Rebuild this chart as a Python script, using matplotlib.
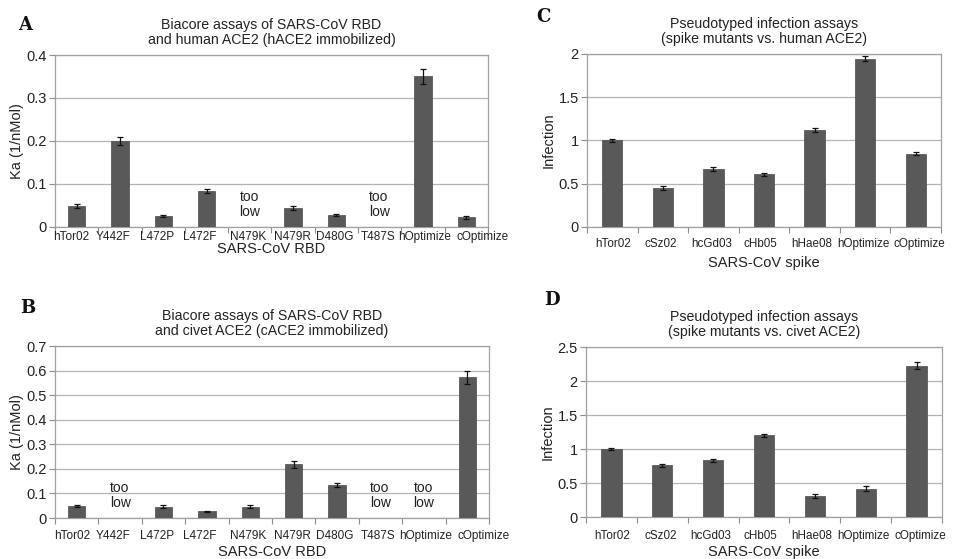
import matplotlib
matplotlib.use('Agg')
import matplotlib.pyplot as plt
import matplotlib.transforms as mtransforms
import numpy as np

plt.rcParams['font.family'] = ['Liberation Sans', 'DejaVu Sans']

# panel A / B categories (RBD mutants)
rbd_names = ['hTor02', 'Y442F', 'L472P', 'L472F', 'N479K', 'N479R',
             'D480G', 'T487S', 'hOptimize', 'cOptimize']
# None = "too low"
ka_human = [0.048, 0.200, 0.026, 0.084, None, 0.044, 0.027, None, 0.350, 0.022]
ka_human_err = [0.005, 0.010, 0.002, 0.005, 0, 0.004, 0.002, 0, 0.018, 0.003]
ka_civet = [0.049, None, 0.046, 0.027, 0.046, 0.218, 0.135, None, None, 0.572]
ka_civet_err = [0.003, 0, 0.006, 0.003, 0.007, 0.015, 0.008, 0, 0, 0.027]

# panel C / D categories (spikes)
spike_names = ['hTor02', 'cSz02', 'hcGd03', 'cHb05', 'hHae08',
               'hOptimize', 'cOptimize']
inf_human = [1.00, 0.453, 0.67, 0.607, 1.12, 1.946, 0.847]
inf_human_err = [0.02, 0.02, 0.02, 0.02, 0.025, 0.03, 0.02]
inf_civet = [1.00, 0.76, 0.833, 1.20, 0.31, 0.417, 2.225]
inf_civet_err = [0.01, 0.02, 0.025, 0.02, 0.03, 0.035, 0.05]

# the category labels in the original are not quite centred (pixels)
rbd_shift = [-5, -7, -6, -7, -2, -1, -2, -2, 2, 16]
spike_shift = [1, -2, -2, -4, -3, -2, 4]

BAR = '#595959'
GRID = '#b4b4b4'
TXT = '#222222'

fig = plt.figure(figsize=(9.58, 5.59), dpi=100)


def panel(ax, names, vals, errs, ymax, ystep, title, xlabel, ylabel,
          lab_drop, xfs, shifts, xlab_y):
    x = np.arange(len(names))
    v = np.array([0 if a is None else a for a in vals])
    e = np.array(errs)
    has = np.array([a is not None for a in vals])
    ax.bar(x[has], v[has], width=0.4, color=BAR, edgecolor='#4a4a4a',
           linewidth=0.5, zorder=3)
    ax.errorbar(x[has], v[has], yerr=e[has], fmt='none', ecolor='#111111',
                elinewidth=0.9, capsize=2.5, capthick=0.9, zorder=4)
    for i, a in enumerate(vals):
        if a is None:
            ax.text(i, ymax * 0.13, 'too\nlow', ha='center', va='center',
                    multialignment='left', fontsize=10, color=TXT,
                    linespacing=1.1)
    ax.set_xlim(-0.5, len(names) - 0.5)
    ax.set_ylim(0, ymax)
    yt = np.arange(0, ymax + ystep / 2, ystep)
    ax.set_yticks(yt)
    ax.set_yticklabels(['%g' % t for t in yt], fontsize=10.5, color=TXT)
    ax.set_xticks(x)
    ax.tick_params(axis='x', which='major', length=0, labelbottom=False)
    # category names as plain texts so they can be nudged like the original
    for i, (nm, dx) in enumerate(zip(names, shifts)):
        off = mtransforms.ScaledTranslation(dx / 100.0, -lab_drop / 100.0,
                                            fig.dpi_scale_trans)
        ax.text(i, 0, nm, transform=ax.get_xaxis_transform() + off,
                ha='center', va='top', fontsize=xfs, color=TXT, clip_on=False)
    ax.set_xticks(np.arange(-0.5, len(names)), minor=True)
    ax.tick_params(axis='x', which='minor', length=4, color='#8c8c8c',
                   width=0.8)
    ax.tick_params(axis='y', length=4, color='#8c8c8c', width=0.8, pad=2)
    ax.grid(axis='y', color=GRID, linewidth=0.9, zorder=0)
    for s in ax.spines.values():
        s.set_color('#a0a0a0')
        s.set_linewidth(0.9)
    ax.set_title(title, fontsize=10.2, color=TXT, pad=8, linespacing=1.1)
    ax.set_xlabel(xlabel, fontsize=10.5, color=TXT)
    ax.xaxis.set_label_coords(0.5, xlab_y)
    ax.set_ylabel(ylabel, fontsize=10.5, color=TXT, labelpad=2)


axA = fig.add_axes([0.0574, 0.594, 0.452, 0.3076])
axB = fig.add_axes([0.0574, 0.0733, 0.453, 0.3077])
axC = fig.add_axes([0.6127, 0.594, 0.3696, 0.3094])
axD = fig.add_axes([0.6117, 0.0751, 0.3716, 0.3041])

panel(axA, rbd_names, ka_human, ka_human_err, 0.4, 0.1,
      'Biacore assays of SARS-CoV RBD\nand human ACE2 (hACE2 immobilized)',
      'SARS-CoV RBD', 'Ka (1/nMol)', 4, 8.5, rbd_shift, -0.09)
panel(axB, rbd_names, ka_civet, ka_civet_err, 0.7, 0.1,
      'Biacore assays of SARS-CoV RBD\nand civet ACE2 (cACE2 immobilized)',
      'SARS-CoV RBD', 'Ka (1/nMol)', 12, 8.5, rbd_shift, -0.158)
panel(axC, spike_names, inf_human, inf_human_err, 2.0, 0.5,
      'Pseudotyped infection assays\n(spike mutants vs. human ACE2)',
      'SARS-CoV spike', 'Infection', 11, 8.4, spike_shift, -0.168)
panel(axD, spike_names, inf_civet, inf_civet_err, 2.5, 0.5,
      'Pseudotyped infection assays\n(spike mutants vs. civet ACE2)',
      'SARS-CoV spike', 'Infection', 13, 8.4, spike_shift, -0.165)

for lab, xx, yy in [('A', 25, 25), ('B', 28, 308), ('C', 543, 17), ('D', 552, 300)]:
    fig.text(xx / 958, 1 - yy / 559, lab, fontsize=13, fontweight='bold',
             family='DejaVu Serif', ha='center', va='center', color='#111111')

plt.savefig('out.png', dpi=100)
